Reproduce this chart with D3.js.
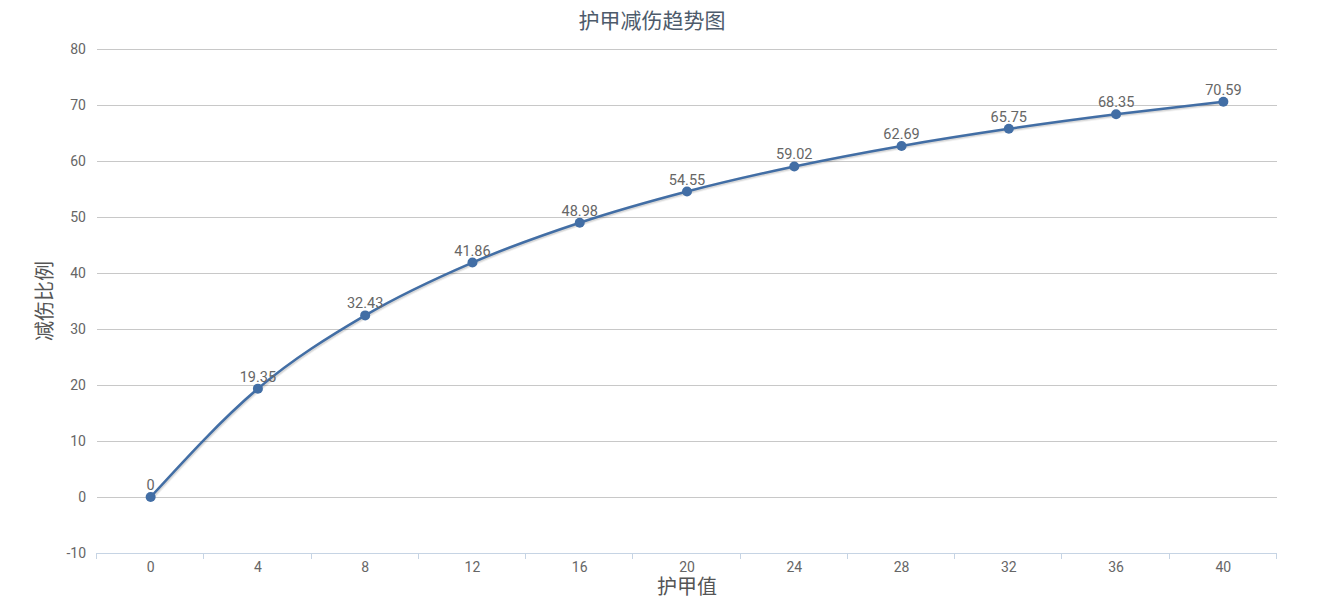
<!DOCTYPE html>
<html>
<head>
<meta charset="utf-8">
<script src="https://cdn.jsdelivr.net/npm/d3@7"></script>
<style>
  body { margin: 0; background: #fff; }
  svg text { font-family: Roboto, "Noto Sans CJK SC", sans-serif; }
</style>
</head>
<body>
<div class="canvas"></div>
<script>
const armor = [0, 4, 8, 12, 16, 20, 24, 28, 32, 36, 40];
const reduction = [0, 19.35, 32.43, 41.86, 48.98, 54.55, 59.02, 62.69, 65.75, 68.35, 70.59];
const yTicks = [-10, 0, 10, 20, 30, 40, 50, 60, 70, 80];
const titleText = '护甲减伤趋势图';
const xTitle = '护甲值';
const yTitle = '减伤比例';

const dims = { width: 1320, height: 606 };
const plot = { left: 97, right: 1277, top: 49, bottom: 553 };

const svg = d3.select('.canvas')
    .append('svg')
    .attr('width', dims.width)
    .attr('height', dims.height);

const x = d3.scaleBand()
    .domain(armor)
    .range([plot.left, plot.right]);

const y = d3.scaleLinear()
    .domain([-10, 80])
    .range([plot.bottom, plot.top]);

// title
svg.append('text')
    .attr('x', 652)
    .attr('y', 28)
    .attr('text-anchor', 'middle')
    .attr('fill', '#4d5b6b')
    .attr('font-size', 21)
    .text(titleText);

// gridlines + y labels
const grid = svg.append('g');
grid.selectAll('line')
    .data(yTicks.filter(d => d !== -10))
    .enter()
    .append('line')
    .attr('x1', plot.left)
    .attr('x2', plot.right)
    .attr('y1', d => Math.round(y(d)) + 0.5)
    .attr('y2', d => Math.round(y(d)) + 0.5)
    .attr('stroke', '#c8c8c8')
    .attr('stroke-width', 1);

svg.append('g')
    .selectAll('text')
    .data(yTicks)
    .enter()
    .append('text')
    .attr('x', 86)
    .attr('y', d => y(d) + 5)
    .attr('text-anchor', 'end')
    .attr('fill', '#666')
    .attr('font-size', 14)
    .text(d => d);

// x axis
const xAxis = svg.append('g');
xAxis.append('line')
    .attr('x1', plot.left)
    .attr('x2', plot.right)
    .attr('y1', plot.bottom + 0.5)
    .attr('y2', plot.bottom + 0.5)
    .attr('stroke', '#c6d4e4')
    .attr('stroke-width', 1);

const bounds = armor.map(d => x(d)).concat([plot.right]);
xAxis.selectAll('.tick')
    .data(bounds)
    .enter()
    .append('line')
    .attr('class', 'tick')
    .attr('x1', d => Math.round(d) - 0.5)
    .attr('x2', d => Math.round(d) - 0.5)
    .attr('y1', plot.bottom)
    .attr('y2', plot.bottom + 6)
    .attr('stroke', '#c6d4e4');

xAxis.selectAll('.lbl')
    .data(armor)
    .enter()
    .append('text')
    .attr('class', 'lbl')
    .attr('x', d => x(d) + x.bandwidth() / 2)
    .attr('y', 572)
    .attr('text-anchor', 'middle')
    .attr('fill', '#666')
    .attr('font-size', 14)
    .text(d => d);

// axis titles
svg.append('text')
    .attr('x', (plot.left + plot.right) / 2)
    .attr('y', 594)
    .attr('text-anchor', 'middle')
    .attr('fill', '#555')
    .attr('font-size', 20)
    .text(xTitle);

svg.append('text')
    .attr('transform', `translate(52, ${(plot.top + plot.bottom) / 2}) rotate(-90)`)
    .attr('text-anchor', 'middle')
    .attr('fill', '#555')
    .attr('font-size', 20)
    .text(yTitle);

// series
const pts = armor.map((a, i) => ({ a, v: reduction[i] }));
const cx = d => x(d.a) + x.bandwidth() / 2;

const line = d3.line()
    .x(cx)
    .y(d => y(d.v))
    .curve(d3.curveMonotoneX);

// shadow
[5, 3].forEach((w, i) => {
    svg.append('path')
        .datum(pts)
        .attr('fill', 'none')
        .attr('stroke', '#000')
        .attr('stroke-opacity', 0.05 * (i + 1))
        .attr('stroke-width', w)
        .attr('transform', 'translate(1,1)')
        .attr('d', line);
});

svg.append('path')
    .datum(pts)
    .attr('fill', 'none')
    .attr('stroke', '#426ea5')
    .attr('stroke-width', 2.5)
    .attr('d', line);

svg.append('g')
    .selectAll('circle')
    .data(pts)
    .enter()
    .append('circle')
    .attr('cx', cx)
    .attr('cy', d => y(d.v))
    .attr('r', 5)
    .attr('fill', '#426ea5');

svg.append('g')
    .selectAll('text')
    .data(pts)
    .enter()
    .append('text')
    .attr('x', cx)
    .attr('y', d => y(d.v) - 7)
    .attr('text-anchor', 'middle')
    .attr('fill', '#666')
    .attr('font-size', 14.5)
    .text(d => d.v);
</script>
</body>
</html>
